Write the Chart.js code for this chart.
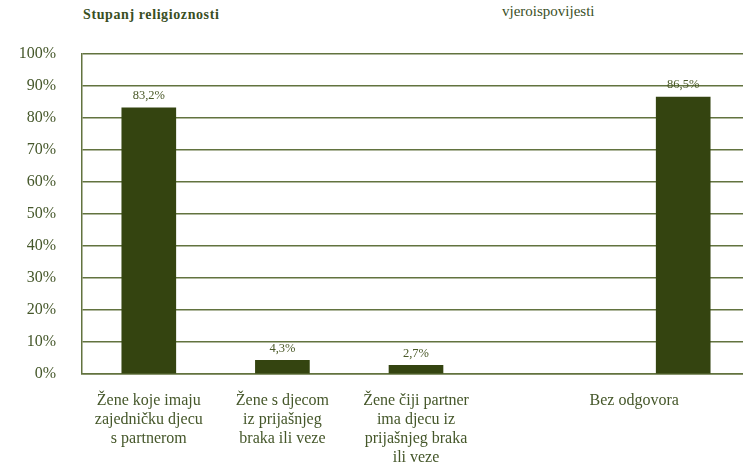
<!DOCTYPE html>
<html>
<head>
<meta charset="utf-8">
<script src="https://cdn.jsdelivr.net/npm/chart.js@4"></script>
<style>
  html, body { margin: 0; padding: 0; background: #fff; overflow: hidden; width: 743px; height: 464px; }
  .wrap { position: absolute; left: 0; top: 0; width: 760px; height: 464px; }
  .t1 { position: absolute; left: 83px; top: 7px; font: bold 14px "Liberation Serif", serif; letter-spacing: 0.6px; color: #3a4f1f; }
  .t2 { position: absolute; left: 502px; top: 3px; font: 15px "Liberation Serif", serif; color: #3a4f1f; }
</style>
</head>
<body>
<div class="t1">Stupanj religioznosti</div>
<div class="t2">vjeroispovijesti</div>
<div class="wrap"><canvas id="c" width="760" height="464"></canvas></div>
<script>
var categories = [
  ["Žene koje imaju", "zajedničku djecu", "s partnerom"],
  ["Žene s djecom", "iz prijašnjeg", "braka ili veze"],
  ["Žene čiji partner", "ima djecu iz", "prijašnjeg braka", "ili veze"],
  [""],
  ["Bez odgovora"]
];
var values = [83.2, 4.3, 2.7, null, 86.5];
var valueLabels = ["83,2%", "4,3%", "2,7%", "", "86,5%"];

var green = "#344410";
var textGreen = "#45572a";

// category labels drawn under the axis (last one sits left of its bar, as in the source)
var catLabels = {
  id: "catLabels",
  afterDraw: function (chart, args, opts) {
    var ctx = chart.ctx, x = chart.scales.x, top = chart.chartArea.bottom + 27;
    ctx.save();
    ctx.font = "16px 'Liberation Serif', serif";
    ctx.fillStyle = textGreen;
    ctx.textAlign = "center";
    ctx.textBaseline = "middle";
    categories.forEach(function (lines, i) {
      var px = x.getPixelForValue(i) + (opts.shift[i] || 0);
      lines.forEach(function (l, j) { ctx.fillText(l, px, top + j * 19); });
    });
    ctx.restore();
  }
};

var valLabels = {
  id: "valLabels",
  afterDatasetsDraw: function (chart) {
    var ctx = chart.ctx, meta = chart.getDatasetMeta(0);
    ctx.save();
    ctx.font = "12.5px 'Liberation Serif', serif";
    ctx.fillStyle = "#4a5928";
    ctx.textAlign = "center";
    ctx.textBaseline = "middle";
    meta.data.forEach(function (bar, i) {
      if (values[i] == null) return;
      ctx.fillText(valueLabels[i], bar.x, bar.y - 12);
    });
    ctx.restore();
  }
};

new Chart(document.getElementById("c"), {
  type: "bar",
  data: {
    labels: categories,
    datasets: [{data: values, backgroundColor: green, borderWidth: 0, barThickness: 54}]
  },
  options: {
    responsive: false,
    animation: false,
    events: [],
    layout: {padding: {top: 54, right: 10, bottom: 82, left: 0}},
    plugins: {
      legend: {display: false},
      tooltip: {enabled: false},
      catLabels: {shift: {4: -49}}
    },
    scales: {
      x: {
        offset: true,
        grid: {display: false},
        border: {display: true, color: "#62733f", width: 1.5},
        ticks: {display: false}
      },
      y: {
        min: 0,
        max: 100,
        afterFit: function (s) { s.width = 82; },
        ticks: {
          stepSize: 10,
          padding: 26,
          color: textGreen,
          font: {family: "'Liberation Serif', serif", size: 16},
          callback: function (v) { return v + "%"; }
        },
        grid: {color: "#62733f", lineWidth: 1.5, drawTicks: false},
        border: {display: true, color: "#62733f", width: 1.5}
      }
    }
  },
  plugins: [catLabels, valLabels]
});
</script>
</body>
</html>
